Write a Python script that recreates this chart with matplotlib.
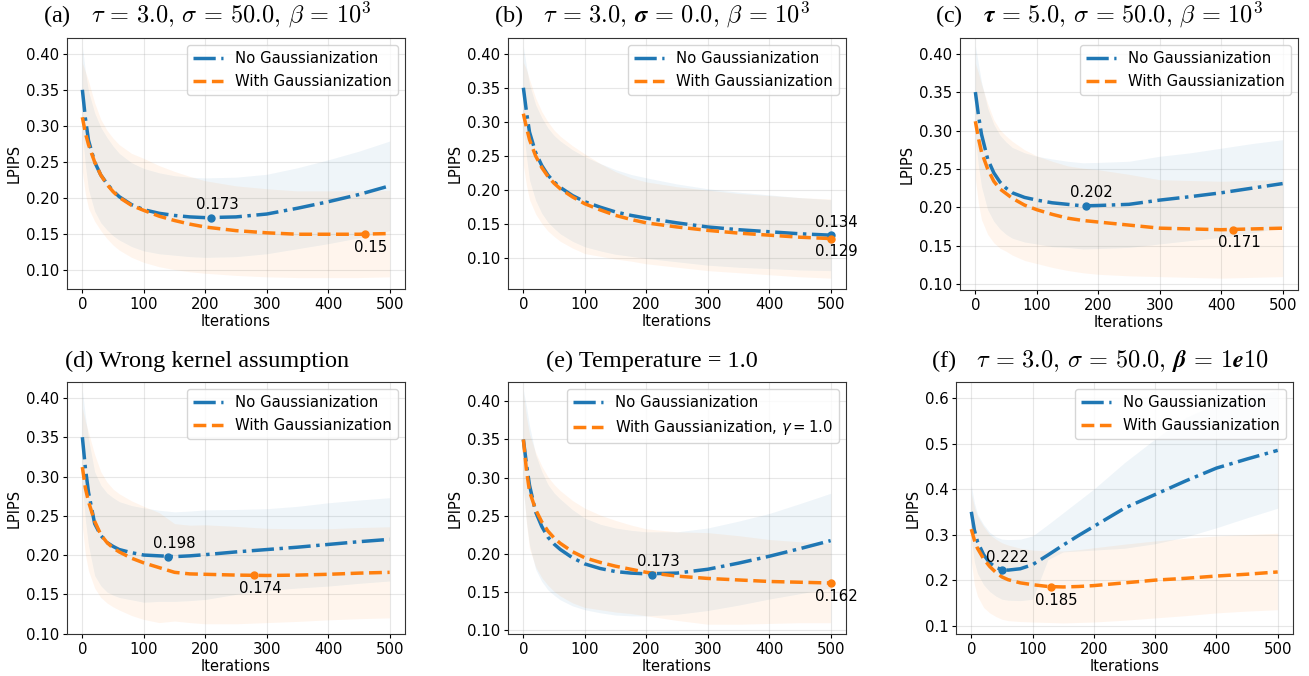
import numpy as np
import matplotlib
matplotlib.use("Agg")
import matplotlib.pyplot as plt

# ---------------- data ----------------
iters = [0, 5, 10, 20, 30, 40, 50, 60, 80, 100, 125, 150, 175, 200, 250, 300, 350, 400, 450, 500]

# (a)
a_blue = [0.350, 0.310, 0.280, 0.250, 0.232, 0.220, 0.210, 0.202, 0.191, 0.184, 0.179, 0.176, 0.174, 0.173, 0.174, 0.178, 0.186, 0.195, 0.205, 0.217]
a_blue_sd = [0.060, 0.065, 0.068, 0.068, 0.066, 0.064, 0.062, 0.060, 0.058, 0.057, 0.056, 0.055, 0.055, 0.055, 0.055, 0.055, 0.056, 0.058, 0.060, 0.062]
a_orange = [0.312, 0.290, 0.274, 0.250, 0.232, 0.219, 0.209, 0.201, 0.190, 0.183, 0.175, 0.169, 0.164, 0.160, 0.155, 0.152, 0.150, 0.150, 0.150, 0.151]
a_orange_sd = [0.075, 0.085, 0.088, 0.082, 0.077, 0.075, 0.074, 0.073, 0.072, 0.072, 0.070, 0.068, 0.066, 0.064, 0.062, 0.061, 0.060, 0.060, 0.060, 0.060]
a_blue_min = (210, 0.173)
a_orange_min = (460, 0.150)

# (b)
b_blue = [0.350, 0.315, 0.285, 0.255, 0.236, 0.222, 0.212, 0.204, 0.192, 0.183, 0.175, 0.168, 0.163, 0.159, 0.152, 0.146, 0.142, 0.139, 0.136, 0.134]
b_blue_sd = [0.060, 0.066, 0.070, 0.070, 0.070, 0.069, 0.068, 0.068, 0.067, 0.066, 0.064, 0.062, 0.060, 0.059, 0.057, 0.056, 0.055, 0.054, 0.053, 0.052]
b_orange = [0.312, 0.292, 0.274, 0.250, 0.233, 0.220, 0.210, 0.202, 0.190, 0.180, 0.171, 0.163, 0.157, 0.152, 0.146, 0.141, 0.137, 0.134, 0.131, 0.129]
b_orange_sd = [0.075, 0.085, 0.088, 0.085, 0.082, 0.080, 0.078, 0.077, 0.075, 0.073, 0.068, 0.064, 0.061, 0.060, 0.059, 0.059, 0.058, 0.058, 0.058, 0.058]
b_blue_min = (500, 0.134)
b_orange_min = (500, 0.129)

# (c)
c_blue = [0.350, 0.320, 0.295, 0.263, 0.245, 0.233, 0.225, 0.219, 0.213, 0.2095, 0.206, 0.204, 0.202, 0.2025, 0.204, 0.2095, 0.214, 0.219, 0.225, 0.231]
c_blue_sd = [0.060, 0.066, 0.068, 0.066, 0.063, 0.061, 0.060, 0.059, 0.058, 0.057, 0.057, 0.056, 0.056, 0.056, 0.056, 0.057, 0.057, 0.058, 0.058, 0.057]
c_orange = [0.312, 0.290, 0.272, 0.250, 0.234, 0.224, 0.218, 0.212, 0.203, 0.197, 0.191, 0.186, 0.183, 0.181, 0.177, 0.173, 0.172, 0.171, 0.172, 0.173]
c_orange_sd = [0.075, 0.085, 0.088, 0.085, 0.080, 0.077, 0.075, 0.074, 0.072, 0.070, 0.069, 0.068, 0.068, 0.068, 0.066, 0.063, 0.063, 0.063, 0.063, 0.063]
c_blue_min = (180, 0.202)
c_orange_min = (420, 0.171)

# (d)
d_blue = [0.350, 0.310, 0.280, 0.240, 0.225, 0.216, 0.211, 0.207, 0.203, 0.200, 0.199, 0.198, 0.199, 0.2005, 0.204, 0.207, 0.210, 0.2135, 0.217, 0.220]
d_blue_sd = [0.060, 0.066, 0.068, 0.066, 0.064, 0.063, 0.062, 0.061, 0.060, 0.060, 0.058, 0.057, 0.057, 0.057, 0.054, 0.052, 0.052, 0.053, 0.053, 0.053]
d_orange = [0.312, 0.285, 0.268, 0.243, 0.226, 0.216, 0.209, 0.204, 0.196, 0.190, 0.184, 0.178, 0.176, 0.1755, 0.1745, 0.174, 0.1745, 0.1755, 0.177, 0.178]
d_orange_sd = [0.075, 0.085, 0.088, 0.085, 0.080, 0.077, 0.075, 0.074, 0.073, 0.072, 0.070, 0.062, 0.062, 0.063, 0.062, 0.060, 0.059, 0.058, 0.058, 0.058]
d_blue_min = (140, 0.198)
d_orange_min = (280, 0.174)

# (e)
e_blue = [0.350, 0.318, 0.290, 0.255, 0.236, 0.222, 0.213, 0.206, 0.195, 0.187, 0.181, 0.177, 0.175, 0.174, 0.175, 0.180, 0.188, 0.197, 0.207, 0.2175]
e_blue_sd = [0.065, 0.075, 0.078, 0.075, 0.072, 0.069, 0.067, 0.066, 0.063, 0.060, 0.058, 0.057, 0.056, 0.055, 0.054, 0.054, 0.055, 0.056, 0.059, 0.062]
e_orange = [0.350, 0.310, 0.282, 0.258, 0.242, 0.230, 0.221, 0.214, 0.203, 0.195, 0.189, 0.184, 0.180, 0.176, 0.171, 0.168, 0.166, 0.164, 0.163, 0.162]
e_orange_sd = [0.060, 0.070, 0.075, 0.075, 0.073, 0.071, 0.070, 0.069, 0.067, 0.065, 0.062, 0.060, 0.058, 0.057, 0.058, 0.060, 0.058, 0.055, 0.053, 0.052]
e_blue_min = (210, 0.173)
e_orange_min = (500, 0.162)

# (f)  (asymmetric bands: explicit lower / upper)
f_blue = [0.350, 0.310, 0.285, 0.256, 0.238, 0.228, 0.223, 0.222, 0.225, 0.234, 0.255, 0.277, 0.298, 0.318, 0.358, 0.388, 0.418, 0.446, 0.466, 0.485]
f_blue_lo = [0.290, 0.240, 0.215, 0.190, 0.175, 0.165, 0.158, 0.156, 0.155, 0.158, 0.245, 0.262, 0.264, 0.266, 0.270, 0.280, 0.295, 0.315, 0.337, 0.358]
f_blue_hi = [0.407, 0.370, 0.345, 0.322, 0.305, 0.295, 0.290, 0.289, 0.290, 0.297, 0.322, 0.348, 0.374, 0.400, 0.458, 0.510, 0.557, 0.587, 0.605, 0.616]
f_orange = [0.312, 0.288, 0.270, 0.247, 0.230, 0.217, 0.207, 0.201, 0.194, 0.190, 0.186, 0.185, 0.186, 0.188, 0.194, 0.200, 0.204, 0.209, 0.213, 0.218]
f_orange_lo = [0.240, 0.190, 0.165, 0.140, 0.128, 0.120, 0.114, 0.111, 0.109, 0.108, 0.107, 0.106, 0.107, 0.108, 0.112, 0.117, 0.122, 0.128, 0.132, 0.135]
f_orange_hi = [0.390, 0.360, 0.340, 0.318, 0.300, 0.290, 0.282, 0.277, 0.270, 0.266, 0.264, 0.264, 0.267, 0.271, 0.279, 0.286, 0.292, 0.297, 0.300, 0.303]
f_blue_min = (50, 0.222)
f_orange_min = (130, 0.185)

titles = [
    r"(a)$\quad\tau\,=\,3.0,\,\sigma\,=\,50.0,\,\beta\,=\,10^3$",
    r"(b)$\quad\tau\,=\,3.0,\,\boldsymbol{\sigma}\,\mathbf{=}\,\mathbf{0.0},\,\beta\,=\,10^3$",
    r"(c)$\quad\boldsymbol{\tau}\,\mathbf{=}\,\mathbf{5.0},\,\sigma\,=\,50.0,\,\beta\,=\,10^3$",
    "(d) Wrong kernel assumption",
    "(e) Temperature = 1.0",
    r"(f)$\quad\tau\,=\,3.0,\,\sigma\,=\,50.0,\,\boldsymbol{\beta}\,\mathbf{=}\,\mathbf{1}\boldsymbol{e}\mathbf{10}$",
]
label_blue = "No Gaussianization"
label_orange = "With Gaussianization"
label_orange_e = r"With Gaussianization, $\gamma = 1.0$"
xlabel = "Iterations"
ylabel = "LPIPS"

# ---------------- figure ----------------
W, H = 1309, 676
fig = plt.figure(figsize=(W / 100, H / 100), dpi=100)
plt.rcParams['font.size'] = 10.7


def rect(l, r, t, b):
    return [l / W, 1 - b / H, (r - l) / W, (b - t) / H]


rects = [rect(67, 405, 38, 289), rect(508, 846, 38, 289), rect(960, 1298, 38, 290),
         rect(67, 405, 382, 634), rect(508, 846, 382, 634), rect(956, 1293, 382, 634)]
ylims = [(0.0742, 0.4217), (0.0551, 0.4229), (0.0926, 0.4203),
         (0.0995, 0.4203), (0.0952, 0.4253), (0.0817, 0.6351)]
title_pos = [(207, 22.7), (652, 22.7), (1099, 22.7), (207, 366.7), (652, 366.7), (1100, 366.7)]


def sd_band(m, s):
    m = np.asarray(m); s = np.asarray(s)
    return m - s, m + s


panels = []
for m_b, s_b, m_o, s_o, mb, mo in [
    (a_blue, a_blue_sd, a_orange, a_orange_sd, a_blue_min, a_orange_min),
    (b_blue, b_blue_sd, b_orange, b_orange_sd, b_blue_min, b_orange_min),
    (c_blue, c_blue_sd, c_orange, c_orange_sd, c_blue_min, c_orange_min),
    (d_blue, d_blue_sd, d_orange, d_orange_sd, d_blue_min, d_orange_min),
    (e_blue, e_blue_sd, e_orange, e_orange_sd, e_blue_min, e_orange_min),
]:
    lb, hb = sd_band(m_b, s_b)
    lo, ho = sd_band(m_o, s_o)
    panels.append((m_b, lb, hb, m_o, lo, ho, mb, mo))
panels.append((f_blue, f_blue_lo, f_blue_hi, f_orange, f_orange_lo, f_orange_hi, f_blue_min, f_orange_min))

for i, (m_b, lb, hb, m_o, lo, ho, mb, mo) in enumerate(panels):
    ax = fig.add_axes(rects[i])
    ax.fill_between(iters, lb, hb, color='C0', alpha=0.07, lw=0)
    ax.fill_between(iters, lo, ho, color='C1', alpha=0.07, lw=0)
    ax.plot(iters, m_b, linestyle='-.', color='C0', lw=2.5, label=label_blue)
    ax.plot(iters, m_o, linestyle='--', color='C1', lw=2.5,
            label=label_orange_e if i == 4 else label_orange)
    ax.plot([mb[0]], [mb[1]], 'o', color='C0', ms=5)
    ax.plot([mo[0]], [mo[1]], 'o', color='C1', ms=5)
    ax.annotate(f"{mb[1]:g}", mb, textcoords='offset points', xytext=(4, 4),
                ha='center', va='bottom', fontsize=10.7)
    ax.annotate(f"{mo[1]:g}", mo, textcoords='offset points', xytext=(4, -4),
                ha='center', va='top', fontsize=10.7)
    ax.set_xlim(-25, 525)
    ax.set_ylim(*ylims[i])
    ax.set_xticks([0, 100, 200, 300, 400, 500])
    if i == 5:
        ax.set_yticks([0.1, 0.2, 0.3, 0.4, 0.5, 0.6])
    else:
        ax.set_yticks([0.10, 0.15, 0.20, 0.25, 0.30, 0.35, 0.40])
    ax.grid(True, alpha=0.3)
    ax.set_axisbelow(True)
    ax.set_xlabel(xlabel, fontsize=10.5, labelpad=2)
    ax.set_ylabel(ylabel, fontsize=10.5, labelpad=3)
    ax.tick_params(labelsize=10.7, length=3, pad=2.5)
    for sp in ax.spines.values():
        sp.set_color('#333333')
    ax.legend(loc='upper right', fontsize=10.7)
    x, y = title_pos[i]
    fig.text(x / W, 1 - y / H, titles[i], ha='center', va='baseline', fontsize=17.5,
             family='Liberation Serif', math_fontfamily='cm')

fig.savefig("out.png", dpi=100)
